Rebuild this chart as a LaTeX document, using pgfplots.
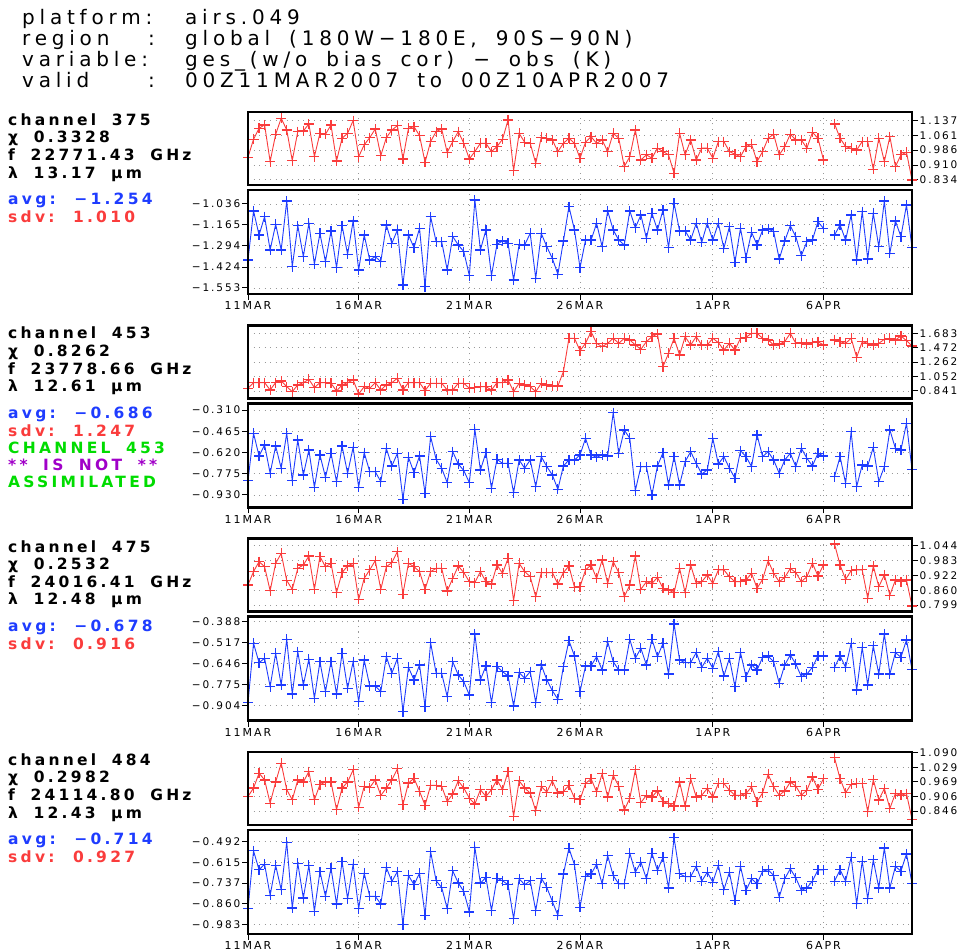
\documentclass[border=0pt]{standalone}
\usepackage{fontspec}
\usepackage{pgfplots}
\usepackage{pgfplotstable}
\pgfplotsset{compat=1.18}
\setmainfont{DejaVu Sans}
\newfontfamily\titlefont{DejaVu Sans}[LetterSpace=24, WordSpace=1.7]
\newfontfamily\chanfont{DejaVu Sans}[LetterSpace=21, WordSpace=1.8]
\newfontfamily\tickfont{DejaVu Sans}[LetterSpace=18]
\definecolor{gred}{RGB}{250,60,60}
\definecolor{gblue}{RGB}{30,60,255}
\definecolor{ggreen}{RGB}{0,220,0}
\definecolor{gpurple}{RGB}{160,0,200}

\pgfplotstableread{
i r375 b375 r453 b453 r475 b475 r484 b484
0 0.950 -1.381 0.880 -0.825 0.882 -0.886 0.907 -0.889
1 1.042 -1.079 0.963 -0.480 0.937 -0.521 0.942 -0.547
2 1.098 -1.227 0.963 -0.645 0.978 -0.640 1.004 -0.659
3 1.115 -1.114 0.963 -0.565 0.957 -0.613 0.976 -0.626
4 0.928 -1.319 0.856 -0.772 0.858 -0.787 0.879 -0.810
5 1.067 -1.161 0.963 -0.573 0.971 -0.583 0.967 -0.633
6 1.149 -1.319 0.987 -0.735 1.012 -0.777 1.046 -0.777
7 1.089 -1.018 0.904 -0.480 0.900 -0.497 0.935 -0.496
8 0.933 -1.422 0.831 -0.825 0.864 -0.832 0.893 -0.885
9 1.081 -1.169 0.929 -0.529 0.950 -0.572 0.976 -0.620
10 1.084 -1.360 0.963 -0.784 0.964 -0.777 0.967 -0.826
11 1.120 -1.155 1.011 -0.602 1.001 -0.619 1.011 -0.633
12 0.953 -1.407 0.890 -0.874 0.864 -0.859 0.893 -0.904
13 1.072 -1.217 0.963 -0.638 0.999 -0.634 0.956 -0.669
14 1.067 -1.391 0.963 -0.801 0.957 -0.818 0.967 -0.816
15 1.115 -1.202 0.953 -0.626 0.971 -0.634 0.967 -0.649
16 0.931 -1.428 0.841 -0.833 0.850 -0.832 0.852 -0.861
17 1.047 -1.169 0.929 -0.573 0.933 -0.583 0.942 -0.610
18 1.072 -1.346 0.963 -0.772 0.960 -0.798 0.967 -0.830
19 1.137 -1.141 1.002 -0.582 0.971 -0.634 1.018 -0.626
20 0.953 -1.442 0.797 -0.874 0.822 -0.880 0.861 -0.889
21 1.013 -1.227 0.904 -0.621 0.909 -0.624 0.949 -0.679
22 1.050 -1.381 0.880 -0.760 0.944 -0.783 0.944 -0.816
23 1.094 -1.360 0.963 -0.760 0.982 -0.783 0.976 -0.816
24 0.958 -1.391 0.856 -0.833 0.864 -0.818 0.911 -0.861
25 1.050 -1.165 0.929 -0.590 0.957 -0.603 0.942 -0.645
26 1.089 -1.278 0.963 -0.718 0.974 -0.705 0.976 -0.728
27 1.111 -1.196 1.026 -0.626 1.019 -0.613 1.022 -0.669
28 0.941 -1.535 0.856 -0.961 0.844 -0.941 0.872 -0.983
29 1.098 -1.227 0.963 -0.655 0.971 -0.669 0.963 -0.692
30 1.106 -1.305 0.963 -0.767 0.957 -0.746 0.983 -0.747
31 1.060 -1.186 0.963 -0.645 0.937 -0.654 0.928 -0.679
32 0.924 -1.545 0.846 -0.918 0.864 -0.910 0.870 -0.928
33 1.030 -1.114 0.953 -0.504 0.937 -0.517 0.953 -0.551
34 1.081 -1.268 0.953 -0.670 0.950 -0.705 0.953 -0.724
35 1.094 -1.268 0.953 -0.735 0.950 -0.705 0.949 -0.763
36 0.974 -1.442 0.856 -0.840 0.857 -0.849 0.886 -0.889
37 1.030 -1.237 0.856 -0.614 0.909 -0.634 0.917 -0.665
38 1.081 -1.288 0.953 -0.704 0.960 -0.716 0.972 -0.737
39 1.021 -1.329 0.953 -0.752 0.933 -0.757 0.942 -0.787
40 0.941 -1.477 0.880 -0.840 0.895 -0.839 0.900 -0.908
41 0.979 -1.011 0.890 -0.451 0.891 -0.464 0.875 -0.527
42 1.021 -1.319 0.904 -0.748 0.937 -0.746 0.935 -0.737
43 1.021 -1.196 0.904 -0.621 0.895 -0.660 0.907 -0.704
44 0.979 -1.477 0.856 -0.881 0.886 -0.886 0.935 -0.900
45 1.004 -1.284 0.963 -0.670 0.964 -0.664 0.976 -0.708
46 1.042 -1.264 0.963 -0.699 0.930 -0.695 0.935 -0.724
47 1.140 -1.278 1.002 -0.699 0.992 -0.722 1.011 -0.747
48 0.882 -1.504 0.831 -0.913 0.817 -0.906 0.824 -0.948
49 1.072 -1.284 0.953 -0.675 0.971 -0.701 0.972 -0.712
50 1.026 -1.288 0.929 -0.735 0.937 -0.736 0.942 -0.747
51 1.021 -1.217 0.904 -0.675 0.916 -0.695 0.921 -0.724
52 0.919 -1.494 0.831 -0.869 0.833 -0.886 0.847 -0.900
53 1.052 -1.217 0.953 -0.650 0.933 -0.654 0.949 -0.708
54 1.047 -1.299 0.929 -0.723 0.933 -0.746 0.925 -0.763
55 1.038 -1.371 0.914 -0.784 0.933 -0.812 0.972 -0.846
56 0.979 -1.469 0.914 -0.889 0.886 -0.865 0.921 -0.928
57 1.021 -1.264 1.123 -0.718 0.933 -0.664 0.928 -0.684
58 1.047 -1.052 1.610 -0.675 0.960 -0.505 0.953 -0.531
59 1.021 -1.196 1.610 -0.675 0.872 -0.599 0.900 -0.629
60 0.944 -1.428 1.430 -0.638 0.875 -0.818 0.893 -0.881
61 1.027 -1.258 1.537 -0.517 0.944 -0.660 0.961 -0.698
62 1.055 -1.258 1.707 -0.638 0.964 -0.660 0.981 -0.684
63 1.021 -1.155 1.537 -0.655 0.909 -0.603 0.926 -0.626
64 1.038 -1.299 1.488 -0.638 0.985 -0.685 1.002 -0.742
65 0.979 -1.079 1.537 -0.645 0.888 -0.511 0.905 -0.575
66 1.072 -1.196 1.610 -0.329 0.978 -0.634 0.995 -0.693
67 1.047 -1.258 1.537 -0.626 0.933 -0.685 0.950 -0.742
68 0.902 -1.288 1.610 -0.456 0.833 -0.685 0.850 -0.742
69 0.953 -1.079 1.586 -0.517 0.882 -0.497 0.899 -0.561
70 1.089 -1.182 1.513 -0.898 1.001 -0.613 1.018 -0.673
71 0.936 -1.104 1.449 -0.723 0.864 -0.552 0.881 -0.614
72 0.962 -1.247 1.561 -0.723 0.895 -0.654 0.912 -0.712
73 0.945 -1.093 1.634 -0.930 0.888 -0.497 0.905 -0.561
74 0.996 -1.196 1.673 -0.718 0.913 -0.603 0.930 -0.663
75 0.979 -1.073 1.196 -0.621 0.868 -0.521 0.885 -0.584
76 0.962 -1.305 1.391 -0.857 0.861 -0.710 0.878 -0.766
77 0.868 -1.032 1.610 -0.650 0.850 -0.402 0.867 -0.470
78 1.072 -1.202 1.367 -0.857 0.950 -0.624 0.967 -0.683
79 0.962 -1.202 1.634 -0.687 0.850 -0.640 0.867 -0.699
80 1.038 -1.258 1.513 -0.614 0.964 -0.640 0.981 -0.699
81 0.936 -1.155 1.634 -0.699 0.888 -0.578 0.905 -0.639
82 0.996 -1.272 1.513 -0.777 0.895 -0.669 0.912 -0.726
83 0.996 -1.155 1.513 -0.748 0.923 -0.613 0.940 -0.673
84 0.945 -1.258 1.610 -0.517 0.888 -0.675 0.905 -0.732
85 1.030 -1.155 1.547 -0.704 0.944 -0.572 0.961 -0.633
86 1.030 -1.309 1.440 -0.650 0.944 -0.722 0.961 -0.777
87 0.979 -1.176 1.537 -0.735 0.916 -0.613 0.933 -0.673
88 0.965 -1.395 1.440 -0.808 0.895 -0.787 0.912 -0.840
89 0.953 -1.186 1.610 -0.607 0.895 -0.578 0.912 -0.639
90 1.004 -1.366 1.625 -0.650 0.902 -0.726 0.919 -0.781
91 1.016 -1.210 1.683 -0.723 0.930 -0.654 0.947 -0.712
92 0.928 -1.288 1.683 -0.492 0.868 -0.685 0.885 -0.742
93 0.979 -1.196 1.610 -0.650 0.905 -0.607 0.922 -0.667
94 1.047 -1.190 1.586 -0.614 0.982 -0.599 0.999 -0.659
95 1.067 -1.206 1.513 -0.675 0.930 -0.634 0.947 -0.693
96 0.962 -1.375 1.527 -0.772 0.895 -0.767 0.912 -0.821
97 1.004 -1.264 1.561 -0.675 0.913 -0.654 0.930 -0.712
98 1.067 -1.169 1.683 -0.626 0.950 -0.593 0.967 -0.653
99 1.038 -1.237 1.537 -0.723 0.933 -0.648 0.950 -0.706
100 1.038 -1.354 1.547 -0.590 0.895 -0.726 0.912 -0.781
101 0.996 -1.268 1.527 -0.662 0.916 -0.710 0.933 -0.766
102 1.077 -1.258 1.547 -0.718 0.971 -0.669 0.988 -0.726
103 1.047 -1.145 1.561 -0.626 0.919 -0.599 0.936 -0.659
104 0.936 -1.186 1.513 -0.645 0.964 -0.599 0.981 -0.659
105 nan nan nan nan nan nan nan nan
106 1.120 -1.227 1.586 -0.796 1.051 -0.669 1.068 -0.726
107 1.047 -1.165 1.561 -0.650 0.964 -0.599 0.981 -0.659
108 1.004 -1.258 1.537 -0.845 0.905 -0.669 0.922 -0.726
109 0.996 -1.104 1.610 -0.468 0.941 -0.521 0.958 -0.584
110 0.987 -1.381 1.333 -0.869 0.944 -0.808 0.961 -0.860
111 1.030 -1.083 1.561 -0.711 0.944 -0.546 0.961 -0.608
112 1.030 -1.375 1.537 -0.718 0.827 -0.777 0.844 -0.830
113 0.889 -1.093 1.513 -0.582 0.960 -0.537 0.977 -0.600
114 1.047 -1.299 1.537 -0.833 0.875 -0.710 0.892 -0.766
115 0.928 -1.018 1.595 -0.723 0.923 -0.464 0.940 -0.530
116 1.055 -1.340 1.610 -0.456 0.840 -0.710 0.857 -0.766
117 0.902 -1.141 1.586 -0.590 0.902 -0.578 0.919 -0.639
118 0.962 -1.237 1.644 -0.602 0.895 -0.607 0.912 -0.667
119 0.975 -1.042 1.576 -0.407 0.902 -0.501 0.919 -0.565
120 0.834 -1.305 1.498 -0.743 0.795 -0.681 0.812 -0.738
}\datatable

\pgfplotsset{
  gpanel/.style={
    scale only axis, width=664pt, xmin=0, xmax=120,
    axis line style={draw=none},
    xtick={0,20,40,60,84,104},
    grid=major,
    major grid style={draw=black!40, dash pattern=on 1.2pt off 4.3pt, line width=0.9pt},
    tick align=outside,
    major tick length=6pt,
    every tick/.style={black, line width=1pt},
    unbounded coords=jump,
    tick label style={font=\tickfont\fontsize{10.5}{12}\selectfont, inner sep=1.5pt},
    after end axis/.code={\draw[line width=2.6pt] (rel axis cs:0,0) rectangle (rel axis cs:1,1);},
  },
  redpanel/.style={gpanel, height=73pt, ytick pos=right, xticklabels={}, xtick style={draw=none}},
  bluepanel/.style={gpanel, height=104pt, ytick pos=left, xtick pos=left,
    xticklabels={11MAR,16MAR,21MAR,26MAR,1APR,6APR},
    xticklabel style={font=\tickfont\fontsize{11}{12}\selectfont}},
  redline/.style={color=gred, line width=0.9pt, mark=+, mark size=5pt,
    every mark/.append style={color=gred, line width=1.2pt, solid}},
  blueline/.style={color=gblue, line width=0.9pt, mark=+, mark size=5pt,
    every mark/.append style={color=gblue, line width=1.2pt, solid}},
}

\newcommand{\ttl}[3]{\node[anchor=base west, inner sep=0pt, font=\titlefont\fontsize{20}{24}\selectfont] at (#1,951-#2) {#3};}
\newcommand{\chl}[3]{\node[anchor=base west, inner sep=0pt, text=#3, font=\chanfont\bfseries\fontsize{15.5}{18}\selectfont] at (8,951-#1) {#2};}

\begin{document}
\begin{tikzpicture}[x=1pt,y=1pt]
\path[use as bounding box] (0,0) rectangle (965,951);

% title
\ttl{22}{25}{platform:}
\ttl{185}{25}{airs.049}
\ttl{22}{46}{region}
\ttl{148}{46}{:}
\ttl{185}{46}{global (180W−180E, 90S−90N)}
\ttl{22}{67}{variable:}
\ttl{185}{67}{ges\_(w/o bias cor) − obs (K)}
\ttl{22}{88}{valid}
\ttl{148}{88}{:}
\ttl{185}{88}{00Z11MAR2007 to 00Z10APR2007}

% channel 375
\chl{125.7}{channel 375}{black}
\chl{143}{χ 0.3328}{black}
\chl{161}{f 22771.43 GHz}{black}
\chl{178.3}{λ 13.17 µm}{black}
\chl{205}{avg:  −1.254}{gblue}
\chl{223}{sdv:  1.010}{gred}
% channel 453
\chl{339}{channel 453}{black}
\chl{356.3}{χ 0.8262}{black}
\chl{374.3}{f 23778.66 GHz}{black}
\chl{391.6}{λ 12.61 µm}{black}
\chl{418.3}{avg:  −0.686}{gblue}
\chl{436.3}{sdv:  1.247}{gred}
\chl{453.5}{CHANNEL 453}{ggreen}
\chl{470.5}{** IS NOT **}{gpurple}
\chl{487.5}{ASSIMILATED}{ggreen}
% channel 475
\chl{552.3}{channel 475}{black}
\chl{569.6}{χ 0.2532}{black}
\chl{587.6}{f 24016.41 GHz}{black}
\chl{604.9}{λ 12.48 µm}{black}
\chl{631.6}{avg:  −0.678}{gblue}
\chl{649.6}{sdv:  0.916}{gred}
% channel 484
\chl{765.6}{channel 484}{black}
\chl{782.9}{χ 0.2982}{black}
\chl{800.9}{f 24114.80 GHz}{black}
\chl{818.2}{λ 12.43 µm}{black}
\chl{844.9}{avg:  −0.714}{gblue}
\chl{862.9}{sdv:  0.927}{gred}

% ---- channel 375
\begin{axis}[redpanel, at={(248pt,839pt)}, anchor=north west, ymin=0.808, ymax=1.181,
  ytick={0.834,0.910,0.986,1.061,1.137}, yticklabels={0.834,0.910,0.986,1.061,1.137}]
\addplot[redline] table[x=i,y=r375]{\datatable};
\end{axis}
\begin{axis}[bluepanel, at={(248pt,761pt)}, anchor=north west, ymin=-1.590, ymax=-0.950,
  ytick={-1.553,-1.424,-1.294,-1.165,-1.036}, yticklabels={−1.553,−1.424,−1.294,−1.165,−1.036}]
\addplot[blueline] table[x=i,y=b375]{\datatable};
\end{axis}
% ---- channel 453
\begin{axis}[redpanel, at={(248pt,625.7pt)}, anchor=north west, ymin=0.734, ymax=1.800,
  ytick={0.841,1.052,1.262,1.472,1.683}, yticklabels={0.841,1.052,1.262,1.472,1.683}]
\addplot[redline] table[x=i,y=r453]{\datatable};
\end{axis}
\begin{axis}[bluepanel, at={(248pt,547.7pt)}, anchor=north west, ymin=-1.020, ymax=-0.261,
  ytick={-0.930,-0.775,-0.620,-0.465,-0.310}, yticklabels={−0.930,−0.775,−0.620,−0.465,−0.310}]
\addplot[blueline] table[x=i,y=b453]{\datatable};
\end{axis}
% ---- channel 475
\begin{axis}[redpanel, at={(248pt,412.4pt)}, anchor=north west, ymin=0.772, ymax=1.073,
  ytick={0.799,0.860,0.922,0.983,1.044}, yticklabels={0.799,0.860,0.922,0.983,1.044}]
\addplot[redline] table[x=i,y=r475]{\datatable};
\end{axis}
\begin{axis}[bluepanel, at={(248pt,334.4pt)}, anchor=north west, ymin=-0.996, ymax=-0.357,
  ytick={-0.904,-0.775,-0.646,-0.517,-0.388}, yticklabels={−0.904,−0.775,−0.646,−0.517,−0.388}]
\addplot[blueline] table[x=i,y=b475]{\datatable};
\end{axis}
% ---- channel 484
\begin{axis}[redpanel, at={(248pt,199.1pt)}, anchor=north west, ymin=0.788, ymax=1.093,
  ytick={0.846,0.907,0.968,1.029,1.090}, yticklabels={0.846,0.906,0.969,1.029,1.090}]
\addplot[redline] table[x=i,y=r484]{\datatable};
\end{axis}
\begin{axis}[bluepanel, at={(248pt,121.1pt)}, anchor=north west, ymin=-1.038, ymax=-0.423,
  ytick={-0.983,-0.860,-0.737,-0.615,-0.492}, yticklabels={−0.983,−0.860,−0.737,−0.615,−0.492}]
\addplot[blueline] table[x=i,y=b484]{\datatable};
\end{axis}
\end{tikzpicture}
\end{document}
